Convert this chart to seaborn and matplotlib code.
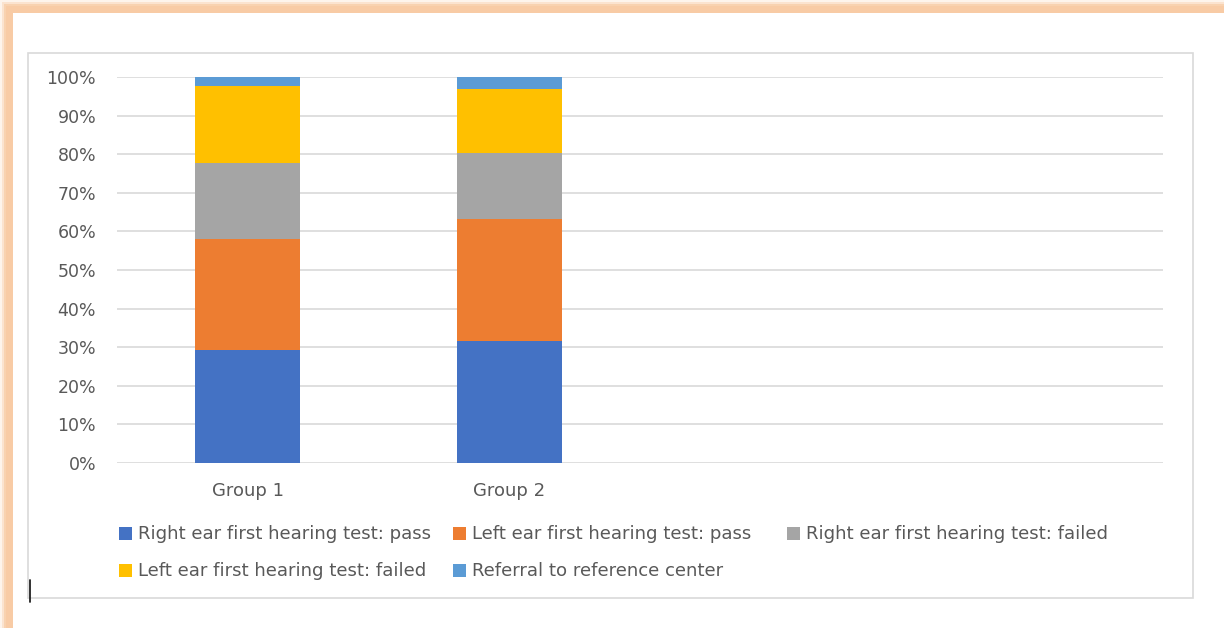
import numpy as np
import pandas as pd
import matplotlib
matplotlib.use("Agg")
import matplotlib.pyplot as plt
from matplotlib.patches import Rectangle, Patch
from matplotlib.lines import Line2D
import seaborn as sns

# ---- data ----
groups = ["Group 1", "Group 2"]
slots = ["Group 1", "Group 2", " ", "  "]
series = [
    "Right ear first hearing test: pass",
    "Left ear first hearing test: pass",
    "Right ear first hearing test: failed",
    "Left ear first hearing test: failed",
    "Referral to reference center",
]
right_pass = [29.2, 31.7]
left_pass = [28.9, 31.5]
right_failed = [19.5, 17.1]
left_failed = [20.1, 16.7]
referral = [2.3, 3.0]
yticks = [0, 10, 20, 30, 40, 50, 60, 70, 80, 90, 100]
colors = ["#4472C4", "#ED7D31", "#A5A5A5", "#FFC000", "#5B9BD5"]

sns.set_theme(style="white")
plt.rcParams["font.family"] = ["DejaVu Sans"]
TXT = "#595959"

W, H = 1224, 628
fig = plt.figure(figsize=(W / 100, H / 100), dpi=100)
fig.patch.set_facecolor("white")

def fx(x):
    return x / W

def fy(y):
    return 1 - y / H

# outer peach glow frame (extends past right/bottom edges)
for pad, a in [(0, 0.2), (2, 0.4), (4, 0.7), (6, 0.9)]:
    fig.patches.append(Rectangle((fx(pad), 0), 1.2, fy(pad), transform=fig.transFigure,
                                 facecolor="#F8CBA4", edgecolor="none", alpha=a, zorder=0))
fig.patches.append(Rectangle((fx(13), 0), 1.2, fy(13), transform=fig.transFigure,
                             facecolor="white", edgecolor="none", zorder=0.1))
# chart area border
fig.patches.append(Rectangle((fx(28), fy(598)), fx(1193 - 28), fy(53) - fy(598),
                             transform=fig.transFigure, facecolor="none",
                             edgecolor="#D9D9D9", lw=1.2, zorder=0.2))
# text cursor mark
fig.lines.append(Line2D([fx(29.5), fx(29.5)], [fy(580), fy(602)], transform=fig.transFigure,
                        color="#222222", lw=1.3, zorder=0.3))

ax = fig.add_axes([fx(117), fy(463), fx(1163 - 117), fy(77) - fy(463)])
ax.set_zorder(5)
ax.set_facecolor("none")

df = pd.DataFrame({"group": groups})
vals = [right_pass, left_pass, right_failed, left_failed, referral]
cum = np.cumsum(np.array(vals), axis=0)
# draw tallest cumulative first so lower segments overlay
for i in range(len(series) - 1, -1, -1):
    df["v"] = cum[i]
    sns.barplot(data=df, x="group", y="v", order=slots, color=colors[i],
                width=0.4, saturation=1, edgecolor="none", ax=ax, zorder=3)

ax.set_xlim(-0.5, 3.5)
ax.set_ylim(0, 100)
ax.set_yticks(yticks)
ax.set_yticklabels([f"{t}%" for t in yticks])
ax.set_xlabel("")
ax.set_ylabel("")
ax.grid(False)
for t in yticks:
    ax.axhline(t, color="#D9D9D9", lw=1.2, zorder=1)
for s in ax.spines.values():
    s.set_visible(False)
ax.tick_params(axis="both", length=0, labelcolor=TXT)
ax.tick_params(axis="y", pad=15, labelsize=12.5)
ax.tick_params(axis="x", pad=13.5, labelsize=13)

handles = [Patch(facecolor=c, edgecolor="none") for c in colors]
# Excel-style legend: equal-width columns, filled row-wise
columns = [[0, 3], [1, 4], [2]]
for k, col in enumerate(columns):
    leg = fig.legend([handles[i] for i in col], [series[i] for i in col],
                     loc="upper left", bbox_to_anchor=(fx(103 + 334 * k), fy(509)),
                     frameon=False, fontsize=13.1, labelcolor=TXT,
                     handlelength=0.72, handleheight=0.72,
                     handletextpad=0.3, labelspacing=1.05)
    leg.set_zorder(6)

fig.savefig("out.png", dpi=100)
